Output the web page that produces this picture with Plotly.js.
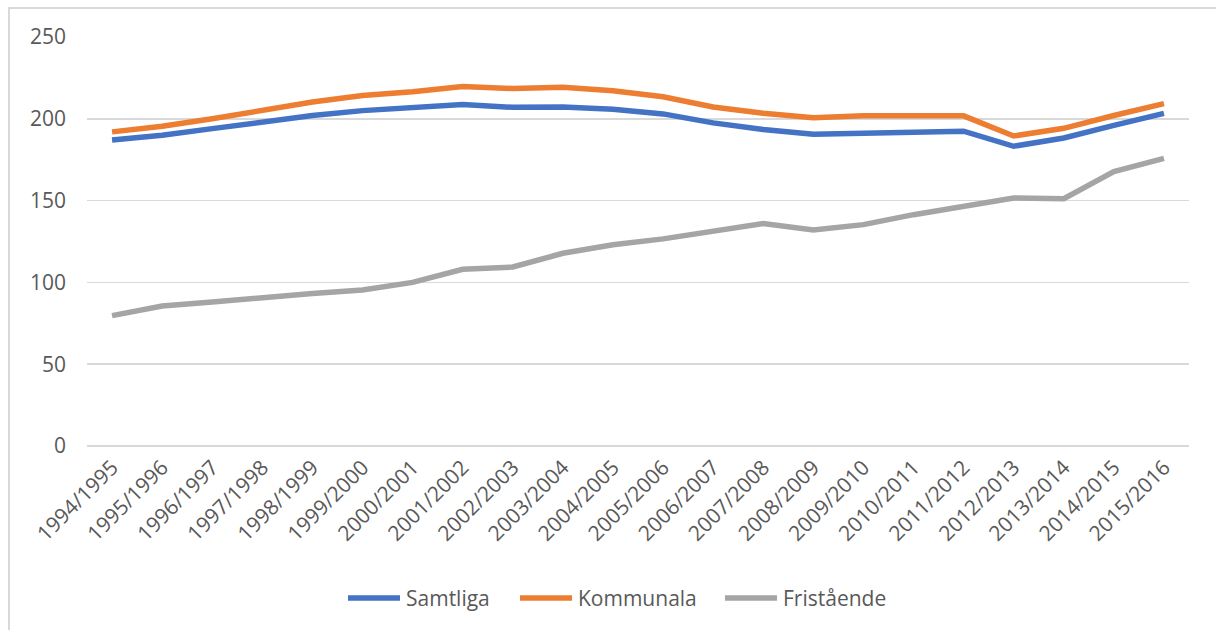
<!DOCTYPE html>
<html>
<head>
<meta charset="utf-8">
<script src="https://cdn.plot.ly/plotly-3.0.1.min.js"></script>
<style>
  html, body { margin: 0; padding: 0; background: #ffffff; }
  #wrap { position: relative; width: 1216px; height: 630px; overflow: hidden; }
  #chart { position: absolute; left: 0; top: 0; width: 1216px; height: 630px; }
  #frame { position: absolute; left: 8px; top: 7px; width: 1220px; height: 640px;
           border-top: 2px solid #d9d9d9; border-left: 2px solid #d9d9d9; pointer-events: none; }
</style>
</head>
<body>
<div id="wrap">
  <div id="chart"></div>
  <div id="frame"></div>
</div>
<script>
const categories = ["1994/1995","1995/1996","1996/1997","1997/1998","1998/1999","1999/2000",
  "2000/2001","2001/2002","2002/2003","2003/2004","2004/2005","2005/2006","2006/2007",
  "2007/2008","2008/2009","2009/2010","2010/2011","2011/2012","2012/2013","2013/2014",
  "2014/2015","2015/2016"];
const samtliga = [187, 190, 194, 198, 202, 205, 206.7, 208.8, 207, 207.2, 205.8, 203,
  197.5, 193.5, 190.6, 191.3, 191.3, 192.4, 183.2, 188.3, 196, 203.3];
const kommunala = [192, 195.5, 200, 205, 210.3, 214.2, 216.5, 219.8, 218.5, 219.3, 217.2,
  213.5, 207.2, 203.4, 200.6, 201.8, 201.5, 201.8, 189.5, 194.2, 202, 209.3];
const fristaende = [79.7, 85.6, 88, 91, 93.2, 95.3, 100, 108, 109.4, 117.8, 123, 126.6,
  131.2, 136, 132, 135.3, 141.4, 146.8, 151.6, 151.2, 167.8, 175.8];
const seriesNames = ["Samtliga", "Kommunala", "Fristående"];
const yTicks = [0, 50, 100, 150, 200, 250];

const colors = ["#4472C4", "#ED7D31", "#A5A5A5"];
const fontFamily = "Open Sans, Noto Sans, sans-serif";
const textColor = "#595959";

const W = 1216, H = 630;
const M = { l: 87, r: 27, t: 37, b: 184 };
const plotW = W - M.l - M.r, plotH = H - M.t - M.b;

const traces = [samtliga, kommunala, fristaende].map((vals, i) => ({
  type: "scatter",
  mode: "lines",
  name: seriesNames[i],
  x: categories,
  y: vals,
  line: { color: colors[i], width: 5.5 },
  hoverinfo: "skip",
  showlegend: false
}));

// custom legend (pixel layout converted to paper coords)
const legendY = 598;
const legendStarts = [348, 520, 725];
const sampleLen = 52;
const px2x = p => (p - M.l) / plotW;
const py2y = p => (H - M.b - p) / plotH;
const shapes = [], annotations = [];
seriesNames.forEach((name, i) => {
  shapes.push({
    type: "line", xref: "paper", yref: "paper",
    x0: px2x(legendStarts[i]), x1: px2x(legendStarts[i] + sampleLen),
    y0: py2y(legendY), y1: py2y(legendY),
    line: { color: colors[i], width: 5.5 }
  });
  annotations.push({
    xref: "paper", yref: "paper",
    x: px2x(legendStarts[i] + sampleLen + 4), y: py2y(legendY),
    xanchor: "left", yanchor: "middle",
    text: name, showarrow: false,
    font: { family: fontFamily, color: textColor, size: 21 }
  });
});

const layout = {
  width: W,
  height: H,
  margin: { l: M.l, r: M.r, t: M.t, b: M.b, pad: 0 },
  paper_bgcolor: "#ffffff",
  plot_bgcolor: "#ffffff",
  font: { family: fontFamily, color: textColor, size: 21 },
  showlegend: false,
  shapes: shapes,
  annotations: annotations,
  xaxis: {
    type: "category",
    range: [-0.5, categories.length - 0.5],
    showgrid: false,
    zeroline: false,
    showline: false,
    ticks: "",
    tickangle: -45,
    tickfont: { family: fontFamily, color: textColor, size: 21 },
    ticklabelstandoff: 4,
    fixedrange: true
  },
  yaxis: {
    range: [0, 250],
    tickvals: yTicks,
    ticktext: yTicks.map(String),
    showgrid: true,
    gridcolor: "#d9d9d9",
    gridwidth: 1.5,
    zeroline: true,
    zerolinecolor: "#d9d9d9",
    zerolinewidth: 1.5,
    showline: false,
    ticks: "",
    tickfont: { family: fontFamily, color: textColor, size: 21 },
    ticklabelstandoff: 20,
    fixedrange: true
  }
};

Plotly.newPlot("chart", traces, layout, { displayModeBar: false, staticPlot: true });
</script>
</body>
</html>
